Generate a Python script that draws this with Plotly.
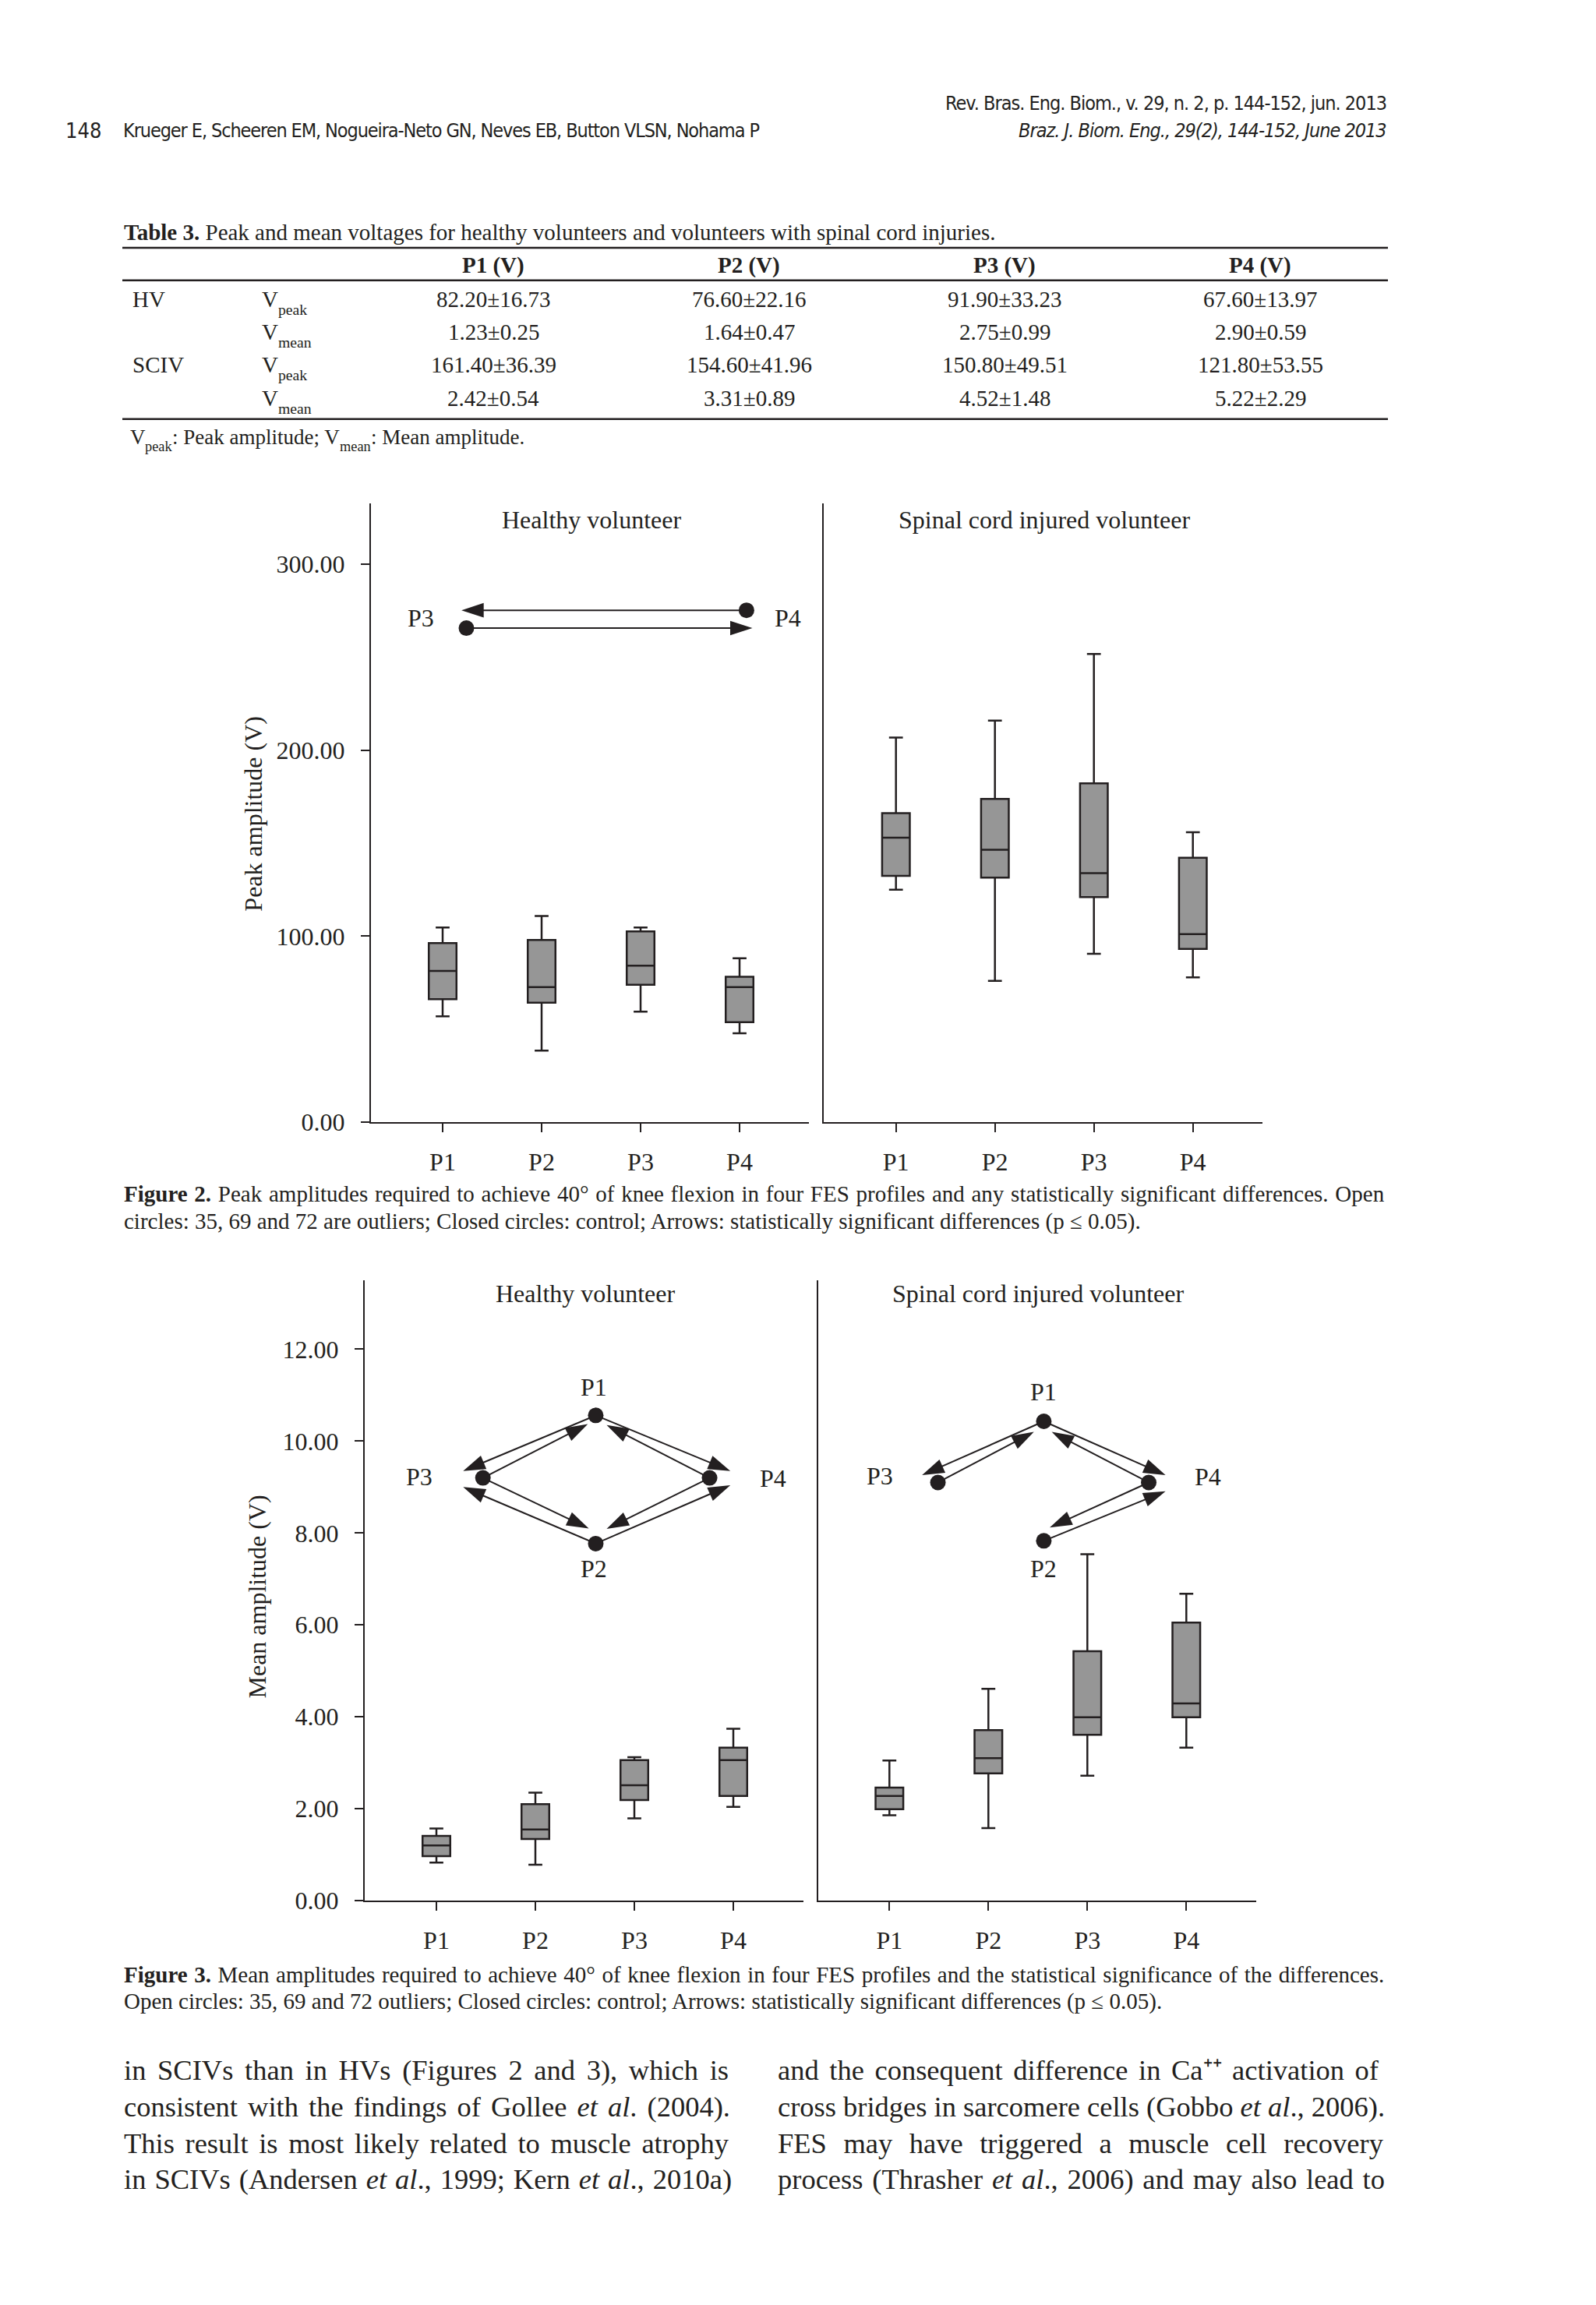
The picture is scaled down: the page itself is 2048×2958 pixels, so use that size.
import re
import plotly.graph_objects as go

W, H = 2048, 2958
INK = "#231f20"
SERIF = "Liberation Serif, Times New Roman, serif"
NARROW = "Liberation Sans Narrow, Arial Narrow, DejaVu Sans Condensed, sans-serif"
BOXFILL = "#969696"

# ---------------- data ----------------
categories = ["P1", "P2", "P3", "P4"]
cat_x = [1, 2, 3, 4]

# Figure 2 - peak amplitude (V)
hv_peak_low = [56.9, 38.5, 59.5, 47.8]
hv_peak_q1 = [66.2, 64.3, 73.9, 53.8]
hv_peak_med = [81.3, 72.7, 84.2, 72.7]
hv_peak_q3 = [96.3, 98.0, 102.6, 78.2]
hv_peak_high = [104.7, 110.9, 104.7, 88.2]

sciv_peak_low = [125.0, 76.0, 90.6, 77.9]
sciv_peak_q1 = [132.4, 131.5, 121.0, 93.2]
sciv_peak_med = [153.0, 146.5, 133.9, 101.1]
sciv_peak_q3 = [166.2, 173.8, 182.2, 142.2]
sciv_peak_high = [206.8, 215.9, 251.7, 155.9]

# Figure 3 - mean amplitude (V)
hv_mean_low = [0.83, 0.78, 1.79, 2.04]
hv_mean_q1 = [0.97, 1.34, 2.19, 2.28]
hv_mean_med = [1.20, 1.55, 2.51, 3.06]
hv_mean_q3 = [1.41, 2.10, 3.06, 3.33]
hv_mean_high = [1.57, 2.35, 3.12, 3.74]

sciv_mean_low = [1.86, 1.58, 2.72, 3.33]
sciv_mean_q1 = [1.99, 2.77, 3.61, 3.99]
sciv_mean_med = [2.28, 3.10, 3.99, 4.29]
sciv_mean_q3 = [2.46, 3.71, 5.43, 6.05]
sciv_mean_high = [3.05, 4.61, 7.54, 6.68]

peak_ticks = [0, 100, 200, 300]
mean_ticks = [0, 2, 4, 6, 8, 10, 12]

# significance diagrams: control dots, labels (text, x, y), arrows (tail_x, tail_y, head_x, head_y)
f2_hv_dots_x = [4.07, 1.24]
f2_hv_dots_y = [275.2, 265.6]
f2_hv_labels = [("P3", 0.78, 271.0), ("P4", 4.49, 271.0)]
f2_hv_arrows = [(4.07, 275.2, 1.19, 275.2), (1.24, 265.6, 4.13, 265.6)]

f3_hv_dots_x = [2.61, 1.47, 3.76, 2.61]
f3_hv_dots_y = [10.56, 9.20, 9.20, 7.77]
f3_hv_labels = [("P1", 2.59, 11.18), ("P3", 0.83, 9.22), ("P4", 4.40, 9.19), ("P2", 2.59, 7.23)]
f3_hv_arrows = [
    (2.61, 10.56, 1.27, 9.35), (1.47, 9.20, 2.53, 10.37),
    (2.61, 10.56, 3.97, 9.35), (3.76, 9.20, 2.72, 10.35),
    (1.47, 9.20, 2.54, 8.10), (2.61, 7.77, 1.27, 9.00),
    (3.76, 9.20, 2.72, 8.09), (2.61, 7.77, 3.97, 9.04),
]

f3_sciv_dots_x = [2.56, 1.49, 3.62, 2.56]
f3_sciv_dots_y = [10.43, 9.10, 9.10, 7.83]
f3_sciv_labels = [("P1", 2.56, 11.08), ("P3", 0.90, 9.24), ("P4", 4.22, 9.22), ("P2", 2.56, 7.22)]
f3_sciv_arrows = [
    (2.56, 10.43, 1.33, 9.26), (1.49, 9.10, 2.46, 10.20),
    (2.56, 10.43, 3.79, 9.26), (3.62, 9.10, 2.64, 10.20),
    (3.62, 9.10, 2.62, 8.12), (2.56, 7.83, 3.79, 8.91),
]

# Table 3
table_cols = ["P1 (V)", "P2 (V)", "P3 (V)", "P4 (V)"]
table_groups = ["HV", "", "SCIV", ""]
table_vars = ["peak", "mean", "peak", "mean"]
table_rows = [
    ["82.20±16.73", "76.60±22.16", "91.90±33.23", "67.60±13.97"],
    ["1.23±0.25", "1.64±0.47", "2.75±0.99", "2.90±0.59"],
    ["161.40±36.39", "154.60±41.96", "150.80±49.51", "121.80±53.55"],
    ["2.42±0.54", "3.31±0.89", "4.52±1.48", "5.22±2.29"],
]

# ---------------- helpers ----------------
def px(x):
    return x / W

def py(y):
    return 1 - y / H

# Times (Liberation Serif) advance widths, per 1000 em
_TW = {" ": 250, "(": 333, ")": 333, ",": 250, "-": 333, ".": 250, ":": 278, ";": 278,
       "°": 400, "±": 564, "≤": 549, "+": 564, "⁺": 400}
for _c in "0123456789":
    _TW[_c] = 500
_TW.update(dict(zip("ABCDEFGHIJKLMNOPQRSTUVWXYZ",
                    [722, 667, 667, 722, 611, 556, 722, 722, 333, 389, 722, 611, 889,
                     722, 722, 556, 722, 667, 556, 611, 722, 722, 944, 722, 722, 611])))
_TW.update(dict(zip("abcdefghijklmnopqrstuvwxyz",
                    [444, 500, 444, 500, 444, 333, 500, 500, 278, 278, 500, 278, 778,
                     500, 500, 500, 500, 333, 389, 278, 500, 500, 722, 500, 500, 444])))

def text_width(s, size):
    plain = re.sub(r"<[^>]+>", "", s)
    return sum(_TW.get(c, 500) for c in plain) / 1000.0 * size

def justify(line, target, size):
    plain = re.sub(r"<[^>]+>", "", line)
    n = plain.count(" ")
    ws = (target - text_width(line, size)) / max(n, 1)
    return '<span style="word-spacing:%.2fpx">%s</span>' % (ws, line)

annotations = []
shapes = []

def text(t, x, y, size, xanchor="left", family=SERIF, yanchor="middle", angle=0):
    annotations.append(dict(
        text=t, x=px(x), y=py(y), xref="paper", yref="paper",
        xanchor=xanchor, yanchor=yanchor, showarrow=False, textangle=angle,
        font=dict(family=family, size=size, color=INK)))

def hline(x0, x1, y, w=2.5):
    shapes.append(dict(type="line", xref="paper", yref="paper",
                       x0=px(x0), x1=px(x1), y0=py(y), y1=py(y),
                       line=dict(color=INK, width=w)))

def runs(pieces, x, y, size):
    # pieces: list of (text, is_subscript)
    for t, sub in pieces:
        s = size * 0.68 if sub else size
        text(t, x, y + (size * 0.45 if sub else 0), s)
        x += text_width(t, s)

fig = go.Figure()

# ---------------- axes ----------------
panels = [
    ("x", "y", 468, 1030, 560, 1441, 642, 332.6, peak_ticks, True),
    ("x2", "y2", 1049, 1612, 1141.7, 1441, 642, 332.6, peak_ticks, False),
    ("x3", "y3", 460, 1023, 552, 2446, 1645, 13.5, mean_ticks, True),
    ("x4", "y4", 1041.5, 1604, 1133.3, 2446, 1645, 13.5, mean_ticks, False),
]
layout_axes = {}
for xa, ya, xl, xr, p1, yb, yt, ytop, ticks, showy in panels:
    step = 127.0
    r0 = 1 - (p1 - xl) / step
    r1 = r0 + (xr - xl) / step
    xkey = "xaxis" if xa == "x" else "xaxis" + xa[1:]
    ykey = "yaxis" if ya == "y" else "yaxis" + ya[1:]
    layout_axes[xkey] = dict(
        domain=[px(xl), px(xr)], anchor=ya, range=[r0, r1],
        tickvals=cat_x, ticktext=categories, ticks="outside", ticklen=11,
        tickwidth=2, tickcolor=INK, showline=True, linecolor=INK, linewidth=2,
        showgrid=False, zeroline=False, ticklabelstandoff=10,
        tickfont=dict(family=SERIF, size=32, color=INK))
    layout_axes[ykey] = dict(
        domain=[py(yb), py(yt)], anchor=xa, range=[0, ytop],
        tickvals=ticks if showy else [], ticktext=["%.2f" % t for t in ticks] if showy else [],
        ticks="outside" if showy else "", ticklen=11, tickwidth=2, tickcolor=INK,
        showline=True, linecolor=INK, linewidth=2, showgrid=False, zeroline=False,
        ticklabelstandoff=14, showticklabels=showy,
        tickfont=dict(family=SERIF, size=32, color=INK))

# ---------------- boxes ----------------
box_sets = [
    ("x", "y", hv_peak_low, hv_peak_q1, hv_peak_med, hv_peak_q3, hv_peak_high),
    ("x2", "y2", sciv_peak_low, sciv_peak_q1, sciv_peak_med, sciv_peak_q3, sciv_peak_high),
    ("x3", "y3", hv_mean_low, hv_mean_q1, hv_mean_med, hv_mean_q3, hv_mean_high),
    ("x4", "y4", sciv_mean_low, sciv_mean_q1, sciv_mean_med, sciv_mean_q3, sciv_mean_high),
]
for xa, ya, lo, q1, med, q3, hi in box_sets:
    fig.add_trace(go.Box(
        x=cat_x, lowerfence=lo, q1=q1, median=med, q3=q3, upperfence=hi,
        xaxis=xa, yaxis=ya, width=0.28, whiskerwidth=0.5,
        fillcolor=BOXFILL, line=dict(color=INK, width=2.5),
        boxpoints=False, showlegend=False, hoverinfo="skip"))

# ---------------- significance diagrams ----------------
diagrams = [
    ("x", "y", f2_hv_dots_x, f2_hv_dots_y, f2_hv_labels, f2_hv_arrows),
    ("x3", "y3", f3_hv_dots_x, f3_hv_dots_y, f3_hv_labels, f3_hv_arrows),
    ("x4", "y4", f3_sciv_dots_x, f3_sciv_dots_y, f3_sciv_labels, f3_sciv_arrows),
]
for xa, ya, dx, dy_, labels, arrows in diagrams:
    for tx, ty, hx, hy in arrows:
        fig.add_trace(go.Scatter(
            x=[tx, hx], y=[ty, hy], xaxis=xa, yaxis=ya, mode="lines+markers",
            line=dict(color=INK, width=2),
            marker=dict(symbol="arrow", size=30, angleref="previous", color=INK,
                        line=dict(width=0)),
            showlegend=False, hoverinfo="skip"))
    fig.add_trace(go.Scatter(
        x=dx, y=dy_, xaxis=xa, yaxis=ya, mode="markers",
        marker=dict(size=20, color=INK), showlegend=False, hoverinfo="skip"))
    for t, lx, ly in labels:
        annotations.append(dict(
            text=t, x=lx, y=ly, xref=xa, yref=ya, showarrow=False,
            xanchor="center", yanchor="middle",
            font=dict(family=SERIF, size=32, color=INK)))

# panel titles
for xa, ya, ttl, yv in [("x", "y", "Healthy volunteer", 324),
                        ("x2", "y2", "Spinal cord injured volunteer", 324),
                        ("x3", "y3", "Healthy volunteer", 13.21),
                        ("x4", "y4", "Spinal cord injured volunteer", 13.21)]:
    annotations.append(dict(
        text=ttl, x=2.5, y=yv, xref=xa, yref=ya, showarrow=False,
        xanchor="center", yanchor="middle",
        font=dict(family=SERIF, size=32, color=INK)))

# y-axis titles
text("Peak amplitude (V)", 317, 1043, 32, xanchor="center", angle=-90)
text("Mean amplitude (V)", 322, 2054, 32, xanchor="center", angle=-90)

# ---------------- page header ----------------
HS = 25
text("148", 74, 160, 27, family=NARROW)
text('<span style="letter-spacing:-1.1px">Krueger E, Scheeren EM, Nogueira-Neto GN, Neves EB, Button VLSN, Nohama P</span>',
     148, 160, HS, family=NARROW)
text('<span style="letter-spacing:-1px">Rev. Bras. Eng. Biom., v. 29, n. 2, p. 144-152, jun. 2013</span>',
     1773, 125, HS, xanchor="right", family=NARROW)
text('<span style="letter-spacing:-1px"><i>Braz. J. Biom. Eng., 29(2), 144-152, June 2013</i></span>',
     1773, 160, HS, xanchor="right", family=NARROW)

# ---------------- table ----------------
TS = 29
dy = -5
text("<b>Table 3.</b> Peak and mean voltages for healthy volunteers and volunteers with spinal cord injuries.", 149, 297 + dy, TS)
hline(149, 1773, 317 + dy)
col_x = [625, 953, 1281, 1609]
for c, cx in zip(table_cols, col_x):
    text("<b>%s</b>" % c, cx, 340 + dy, TS, xanchor="center")
hline(149, 1773, 359 + dy)
row_y = [383, 426, 468, 511]
for g, v, row, ry in zip(table_groups, table_vars, table_rows, row_y):
    ry = ry + dy
    if g:
        text(g, 160, ry, TS)
    runs([("V", False), (v, True)], 326, ry, TS)
    for val, cx in zip(row, col_x):
        text(val, cx, ry, TS, xanchor="center")
hline(149, 1773, 538 + dy)
runs([("V", False), ("peak", True), (": Peak amplitude; V", False), ("mean", True),
      (": Mean amplitude.", False)], 157, 556, 27)

# ---------------- captions ----------------
CS = 29
cap2_1 = "<b>Figure 2.</b> Peak amplitudes required to achieve 40° of knee flexion in four FES profiles and any statistically significant differences. Open"
cap2_2 = "circles: 35, 69 and 72 are outliers; Closed circles: control; Arrows: statistically significant differences (p ≤ 0.05)."
cap3_1 = "<b>Figure 3.</b> Mean amplitudes required to achieve 40° of knee flexion in four FES profiles and the statistical significance of the differences."
cap3_2 = "Open circles: 35, 69 and 72 outliers; Closed circles: control; Arrows: statistically significant differences (p ≤ 0.05)."
text(justify(cap2_1, 1773 - 149 - 12, CS), 149, 1533, CS)
text(cap2_2, 149, 1569, CS)
text(justify(cap3_1, 1773 - 149 - 12, CS), 149, 2541, CS)
text(cap3_2, 149, 2576, CS)

# ---------------- body text ----------------
BS = 36.5
left_lines = [
    "in SCIVs than in HVs (Figures 2 and 3), which is",
    "consistent with the findings of Gollee <i>et al</i>. (2004).",
    "This result is most likely related to muscle atrophy",
    "in SCIVs (Andersen <i>et al</i>., 1999; Kern <i>et al</i>., 2010a)",
]
right_lines = [
    "and the consequent difference in Ca⁺⁺ activation of",
    "cross bridges in sarcomere cells (Gobbo <i>et al</i>., 2006).",
    "FES may have triggered a muscle cell recovery",
    "process (Thrasher <i>et al</i>., 2006) and may also lead to",
]
body_y = [2665, 2712, 2759, 2806]
for t, yy in zip(left_lines, body_y):
    text(justify(t, 931 - 149 - 6, BS), 149, yy, BS)
for t, yy in zip(right_lines, body_y):
    text(justify(t, 1773 - 988 - 8, BS), 988, yy, BS)

fig.update_layout(
    width=W, height=H, margin=dict(l=0, r=0, t=0, b=0),
    paper_bgcolor="white", plot_bgcolor="rgba(0,0,0,0)",
    showlegend=False, annotations=annotations, shapes=shapes,
    **layout_axes)

fig.write_html("out.html")
